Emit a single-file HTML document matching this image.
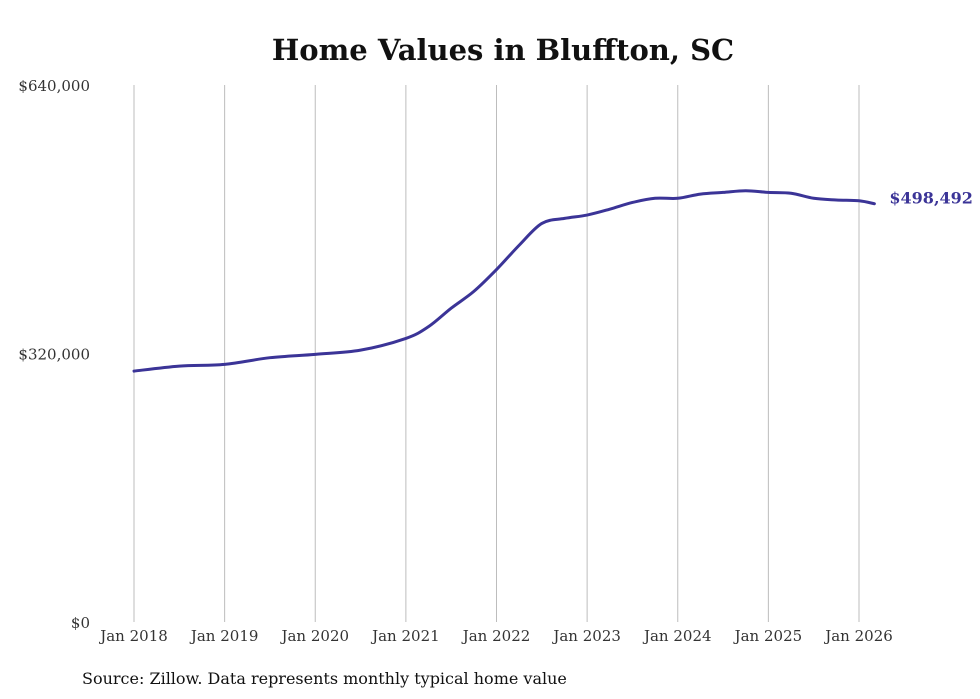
<!DOCTYPE html>
<html><head><meta charset="utf-8"><style>
html,body{margin:0;padding:0;background:#fff;width:980px;height:699px;overflow:hidden}
svg text{font-family:"DejaVu Serif","Liberation Serif",serif}
</style></head><body>
<svg id="chart" width="980" height="699" xmlns="http://www.w3.org/2000/svg">
<text x="503" y="60" text-anchor="middle" font-size="29" font-weight="bold" fill="#111">Home Values in Bluffton, SC</text>
<g id="grid"></g>
<g id="yaxis"></g>
<g id="xaxis"></g>
<path id="line" fill="none" stroke="#3b3497" stroke-width="3" stroke-linejoin="round" stroke-linecap="round"/>
<text id="endlabel" font-size="16" font-weight="bold" fill="#3b3497"></text>
<text x="82" y="684" font-size="16" fill="#111">Source: Zillow. Data represents monthly typical home value</text>
</svg>
<script>
const dates = [2018,2018.5,2019,2019.5,2020,2020.5,2021,2021.25,2021.5,2021.75,2022,2022.25,2022.5,2022.75,2023,2023.25,2023.5,2023.75,2024,2024.25,2024.5,2024.75,2025,2025.25,2025.5,2025.75,2026,2026.17];
const values = [299000,305000,307000,315000,319000,324000,338000,352000,374000,394000,420000,449000,475000,481000,485000,492000,500000,505000,505000,510000,512000,514000,512000,511000,505000,503000,502000,498492];
const yTicks = [0,320000,640000];
const yTickLabels = ["$0","$320,000","$640,000"];
const xTicks = [2018,2019,2020,2021,2022,2023,2024,2025,2026];
const xTickLabels = ["Jan 2018","Jan 2019","Jan 2020","Jan 2021","Jan 2022","Jan 2023","Jan 2024","Jan 2025","Jan 2026"];
const latestLabel = "$498,492";

const NS="http://www.w3.org/2000/svg";
const x0=134,x1=859,yTop=85,yBot=622;
const xs=d=>x0+(d-2018)/8*(x1-x0);
const ys=v=>yBot-v/640000*(yBot-yTop);
function mk(tag,attrs,parent,txt){const e=document.createElementNS(NS,tag);for(const k in attrs)e.setAttribute(k,attrs[k]);if(txt!=null)e.textContent=txt;parent.appendChild(e);return e;}
const grid=document.getElementById('grid'),xa=document.getElementById('xaxis'),ya=document.getElementById('yaxis');
xTicks.forEach((t,i)=>{
  const l=mk('line',{x1:xs(t),x2:xs(t),y1:yTop,y2:yBot,stroke:'#bdbdbd','stroke-width':1},grid);
  
  
  const tx=mk('text',{x:xs(t),y:641,'text-anchor':'middle','font-size':15,fill:'#333'},xa,xTickLabels[i]);
  
  
});
yTicks.forEach((t,i)=>{
  const tx=mk('text',{x:90,y:ys(t)+6,'text-anchor':'end','font-size':15,fill:'#333'},ya,yTickLabels[i]);
  
  
});
const pts=dates.map((d,i)=>[xs(d),ys(values[i])]);
let p=`M${pts[0][0]},${pts[0][1]}`;
for(let i=0;i<pts.length-1;i++){
  const a=pts[i-1]||pts[i],b=pts[i],c=pts[i+1],d=pts[i+2]||c;
  const c1=[b[0]+(c[0]-a[0])/6,b[1]+(c[1]-a[1])/6],c2=[c[0]-(d[0]-b[0])/6,c[1]-(d[1]-b[1])/6];
  p+=` C${c1[0]},${c1[1]} ${c2[0]},${c2[1]} ${c[0]},${c[1]}`;
}
document.getElementById('line').setAttribute('d',p);
const last=pts[pts.length-1];
const el=document.getElementById('endlabel');
el.setAttribute('x',last[0]+15);el.setAttribute('y',last[1]);
el.textContent=latestLabel;
</script>
</body></html>
